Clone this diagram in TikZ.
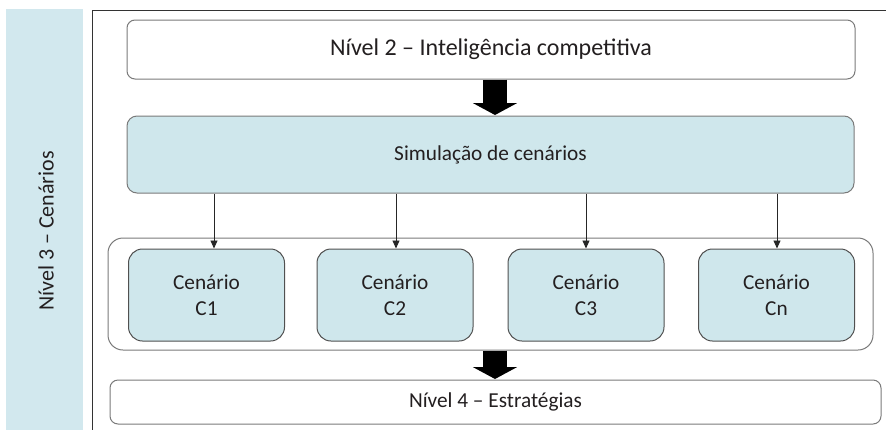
\documentclass[tikz,border=0pt]{standalone}
\usepackage{fontspec}
\setmainfont{Carlito}
\usetikzlibrary{arrows.meta,calc}
\definecolor{boxblue}{HTML}{CFE7EC}
\definecolor{bandblue}{HTML}{D2E8EE}
\definecolor{txt}{HTML}{231F20}
\definecolor{edge}{HTML}{7A7A7A}
\definecolor{edgedark}{HTML}{505050}
\tikzset{
  lbl/.style={text=txt,font=\fontsize{21.3}{26}\selectfont},
  biglbl/.style={text=txt,font=\fontsize{24}{28}\selectfont},
  whitebox/.style={draw=edge,line width=1pt,fill=white,rounded corners=8pt,inner sep=0pt},
  simbox/.style={draw=edge,line width=1pt,fill=boxblue,rounded corners=10pt,inner sep=0pt},
  scenbox/.style={draw=edgedark,line width=1pt,fill=boxblue,rounded corners=14pt,inner sep=0pt,
    minimum width=156pt,minimum height=92pt,align=center,lbl},
  bigarrow/.style={line width=24pt,-{Triangle[width=44pt,length=12pt]},black,shorten >=0.5pt},
  thinarrow/.style={line width=0.9pt,draw=black!85,-{Triangle[width=7pt,length=8pt]}},
}
\begin{document}
\begin{tikzpicture}[x=1pt,y=-1pt]
\useasboundingbox (0,0) rectangle (886,429);
% left band
\fill[bandblue] (6,9) rectangle (83,432);
\node[lbl,font=\fontsize{22}{26}\selectfont,rotate=90] (band) at (46,231) {Nível 3 – Cenários};
% frame
\draw[black!80,line width=0.9pt] (92,432) -- (92,10) -- (890,10);
% top box
\node[whitebox,minimum width=728pt,minimum height=59pt,biglbl] (lvl2) at (491,49.5) {Nível 2 – Inteligência competitiva};
% simulation box
\node[simbox,minimum width=727pt,minimum height=77pt,lbl] (sim) at (490.5,154.5) {Simulação de cenários};
% container
\node[draw=edge,line width=1pt,rounded corners=15pt,minimum width=765pt,minimum height=112pt,inner sep=0pt] (cont) at (490.5,294) {};
% scenarios
\node[scenbox] (c1) at (206.5,295) {Cenário\\C1};
\node[scenbox] (c2) at (395,295) {Cenário\\C2};
\node[scenbox] (c3) at (586,295) {Cenário\\C3};
\node[scenbox] (cn) at (776.5,295) {Cenário\\Cn};
% bottom box
\node[whitebox,minimum width=771pt,minimum height=44pt,lbl] (lvl4) at (495.5,402) {Nível 4 – Estratégias};
% block arrows
\draw[bigarrow] (lvl2.south -| 495,0) -- (sim.north -| 495,0);
\draw[bigarrow] (cont.south -| 495,0) -- (lvl4.north -| 495,0);
% thin arrows
\draw[thinarrow] ($(sim.south -| c1.north)+(7.5,0)$) -- ($(c1.north)+(7.5,0)$);
\draw[thinarrow] ($(sim.south -| c2.north)+(1,0)$) -- ($(c2.north)+(1,0)$);
\draw[thinarrow] (sim.south -| c3.north) -- (c3.north);
\draw[thinarrow] ($(sim.south -| cn.north)+(0.5,0)$) -- ($(cn.north)+(0.5,0)$);
\end{tikzpicture}
\end{document}
